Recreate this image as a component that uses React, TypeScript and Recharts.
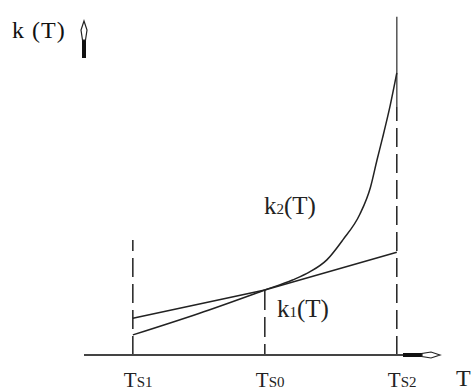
import React from 'react';
import { LineChart, Line, XAxis, YAxis, ReferenceLine, ReferenceDot } from 'recharts';

// k2(T): steep curve
const k2Temps = [1, 1.5, 2, 2.21, 2.34, 2.47, 2.59, 2.72, 2.8, 2.85, 2.89, 2.95, 3];
const k2Values = [0.6, 1.24, 1.94, 2.24, 2.48, 2.84, 3.43, 4.2, 5.0, 5.82, 6.45, 7.45, 8.42];

// k1(T): nearly straight
const k1Temps = [1, 2, 3];
const k1Values = [1.1, 1.94, 3.07];

const tickTemps = [1, 2, 3];
const tickSubs = ['S1', 'S0', 'S2'];

const xDomain: [number, number] = [0.63, 3.1];
const yDomain: [number, number] = [0, 10];

const k2Data = k2Temps.map((t, i) => ({ t, k: k2Values[i] }));
const k1Data = k1Temps.map((t, i) => ({ t, k: k1Values[i] }));

const serif = "'Liberation Serif', 'DejaVu Serif', serif";
const ink = '#222';

const TempTick = (props: any) => {
  const { x, y, payload } = props;
  const idx = tickTemps.indexOf(payload.value);
  return (
    <text x={x - 9} y={y + 32} fontFamily={serif} fill={ink}>
      <tspan fontSize={21}>T</tspan>
      <tspan fontSize={15}>{tickSubs[idx]}</tspan>
    </text>
  );
};

const XArrow = (props: any) => {
  const { cx, cy } = props;
  return (
    <g>
      <rect x={cx - 7} y={cy - 2} width={19} height={4} fill="#111" />
      <path
        d={`M${cx + 30},${cy} L${cx + 21},${cy - 3} L${cx + 12},${cy - 1.5} L${cx + 12},${cy + 1.5} L${cx + 21},${cy + 3} Z`}
        fill="#fff"
        stroke={ink}
        strokeWidth={1.2}
      />
    </g>
  );
};

const YArrow = (props: any) => {
  const { cx, cy } = props;
  return (
    <g>
      <rect x={cx - 2} y={cy + 20} width={4} height={18} fill="#111" />
      <path
        d={`M${cx},${cy + 1} L${cx + 3},${cy + 10} L${cx + 1.5},${cy + 20} L${cx - 1.5},${cy + 20} L${cx - 3},${cy + 10} Z`}
        fill="#fff"
        stroke={ink}
        strokeWidth={1.2}
      />
    </g>
  );
};

export default function App() {
  return (
    <div style={{ position: 'absolute', left: 0, top: 0, width: 474, height: 392, background: '#fff' }}>
      <LineChart width={474} height={392} margin={{ top: 20, right: 64, left: 84, bottom: 0 }}>
        <XAxis
          type="number"
          dataKey="t"
          domain={xDomain}
          ticks={tickTemps}
          allowDataOverflow
          height={37}
          tickLine={false}
          tickSize={0}
          tickMargin={0}
          axisLine={{ stroke: '#444', strokeWidth: 2 }}
          tick={<TempTick />}
        />
        <YAxis
          type="number"
          domain={yDomain}
          width={0}
          tick={false}
          tickLine={false}
          axisLine={{ stroke: '#444', strokeWidth: 2 }}
        />
        <ReferenceLine
          segment={[{ x: 1, y: 0 }, { x: 1, y: 3.43 }]}
          stroke={ink}
          strokeWidth={1.5}
          strokeDasharray="19 7"
          ifOverflow="visible"
        />
        <ReferenceLine
          segment={[{ x: 2, y: 1.94 }, { x: 2, y: 0 }]}
          stroke={ink}
          strokeWidth={1.5}
          strokeDasharray="20 7"
          ifOverflow="visible"
        />
        <ReferenceLine
          segment={[{ x: 3, y: 0 }, { x: 3, y: 7.4 }]}
          stroke={ink}
          strokeWidth={1.5}
          strokeDasharray="19 7"
          ifOverflow="visible"
        />
        <ReferenceLine
          segment={[{ x: 3, y: 7.4 }, { x: 3, y: 10.1 }]}
          stroke="#555"
          strokeWidth={1.5}
          ifOverflow="visible"
        />
        <Line
          data={k1Data}
          dataKey="k"
          type="linear"
          stroke={ink}
          strokeWidth={1.5}
          dot={false}
          isAnimationActive={false}
        />
        <Line
          data={k2Data}
          dataKey="k"
          type="monotone"
          stroke={ink}
          strokeWidth={1.5}
          dot={false}
          isAnimationActive={false}
        />
        <ReferenceDot x={xDomain[1]} y={0} r={0} ifOverflow="visible" shape={<XArrow />} />
        <ReferenceDot x={xDomain[0]} y={yDomain[1]} r={0} ifOverflow="visible" shape={<YArrow />} />
      </LineChart>
      <svg
        width={474}
        height={392}
        style={{ position: 'absolute', left: 0, top: 0, pointerEvents: 'none' }}
      >
        <text x={12} y={38} fontFamily={serif} fontSize={24} fill="#111" letterSpacing={1}>
          k (T)
        </text>
        <text x={456} y={386} fontFamily={serif} fontSize={24} fill={ink}>
          T
        </text>
        <text x={264} y={214} fontFamily={serif} fill={ink}>
          <tspan fontSize={25}>k</tspan>
          <tspan fontSize={15}>2</tspan>
          <tspan fontSize={25}>(T)</tspan>
        </text>
        <text x={277} y={317} fontFamily={serif} fill={ink}>
          <tspan fontSize={25}>k</tspan>
          <tspan fontSize={15}>1</tspan>
          <tspan fontSize={25}>(T)</tspan>
        </text>
      </svg>
    </div>
  );
}
